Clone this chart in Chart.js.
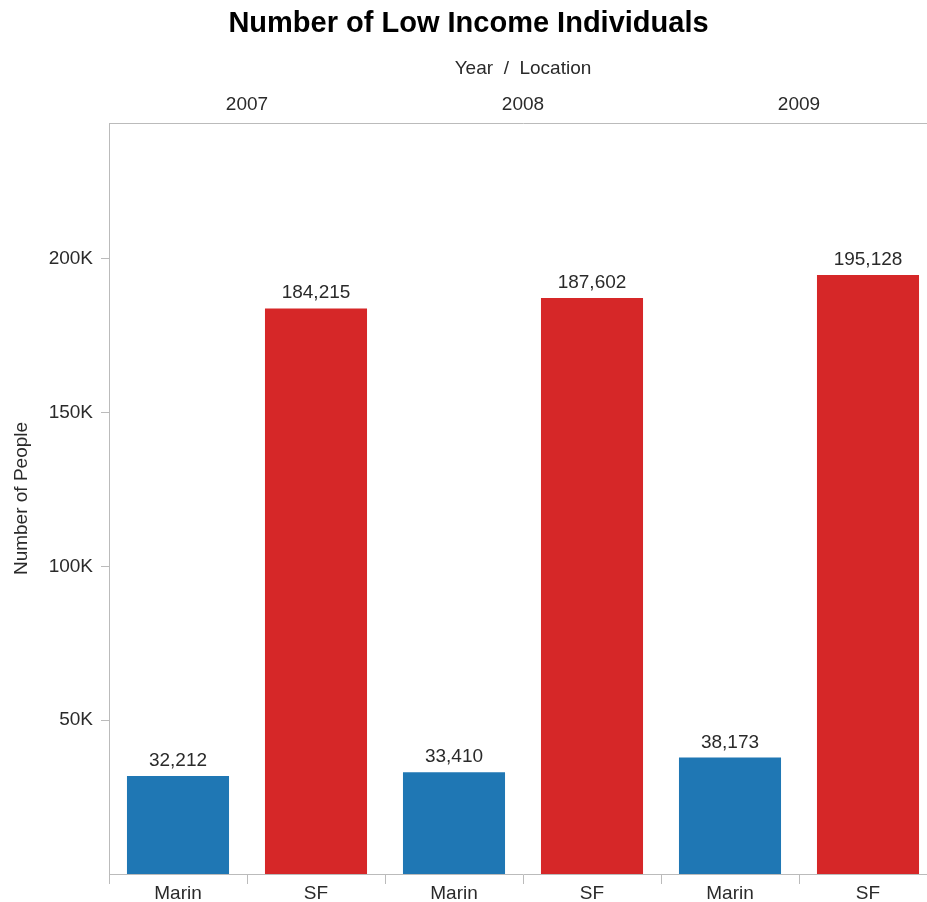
<!DOCTYPE html>
<html lang="en">

<head>
    <meta charset="UTF-8">
    <title>Number of Low Income Individuals</title>
    <script src="https://cdn.jsdelivr.net/npm/chart.js"></script>
</head>

<style>
    body {
        margin: 0;
        background: #fff;
        overflow: hidden;
    }

    /* a bit wider than the window: the last category runs off the right edge */
    #chart-box {
        position: relative;
        width: 937px;
        height: 902px;
    }
</style>

<body>

    <div id="chart-box">
        <canvas id="income-chart"></canvas>
    </div>

    <script>
        // data
        const years = ['2007', '2008', '2009'];
        const locations = ['Marin', 'SF', 'Marin', 'SF', 'Marin', 'SF'];
        const people = [32212, 184215, 33410, 187602, 38173, 195128];
        const yTicks = [50000, 100000, 150000, 200000];

        const locationColors = { Marin: '#1F77B4', SF: '#D62728' };
        const axisGrey = '#bbbbbb';
        const textColor = '#2a2a2a';
        const font = 'Liberation Sans, Arial, sans-serif';

        // value labels above each bar
        const barLabels = {
            id: 'barLabels',
            afterDatasetsDraw(chart) {
                const ctx = chart.ctx;
                const meta = chart.getDatasetMeta(0);
                ctx.save();
                ctx.font = '19px ' + font;
                ctx.fillStyle = textColor;
                ctx.textAlign = 'center';
                ctx.textBaseline = 'alphabetic';
                meta.data.forEach(function (bar, i) {
                    ctx.fillText(people[i].toLocaleString('en-US'), bar.x, bar.y - 9);
                });
                ctx.restore();
            }
        };

        var ctx = document.getElementById('income-chart').getContext('2d');
        var incomeChart = new Chart(ctx, {
            type: 'bar',
            data: {
                labels: locations,
                datasets: [{
                    label: 'Number of People',
                    data: people,
                    backgroundColor: locations.map(l => locationColors[l]),
                    borderColor: 'rgba(255, 255, 255, 0.3)',
                    borderWidth: 1,
                    barPercentage: 0.754,
                    categoryPercentage: 1
                }]
            },
            options: {
                responsive: true,
                maintainAspectRatio: false,
                animation: false,
                layout: {
                    padding: 0
                },
                plugins: {
                    legend: { display: false },
                    tooltip: { enabled: false },
                    title: {
                        display: true,
                        text: 'Number of Low Income Individuals',
                        color: '#000',
                        font: { family: font, size: 29, weight: 'bold' },
                        padding: { top: 7, bottom: 1 }
                    }
                },
                scales: {
                    x: {
                        position: 'bottom',
                        offset: true,
                        afterFit: function (scale) { scale.height = 28; },
                        border: { display: true, color: axisGrey },
                        grid: {
                            offset: true,
                            drawOnChartArea: false,
                            drawTicks: true,
                            tickLength: 10,
                            color: axisGrey
                        },
                        ticks: {
                            color: textColor,
                            padding: -2,
                            maxRotation: 0,
                            font: { family: font, size: 19 }
                        }
                    },
                    x2: {
                        type: 'category',
                        position: 'top',
                        labels: years,
                        offset: true,
                        afterFit: function (scale) { scale.height = 80.2; },
                        border: { display: true, color: axisGrey },
                        grid: { display: false, drawTicks: false },
                        ticks: {
                            color: textColor,
                            padding: 7,
                            maxRotation: 0,
                            font: { family: font, size: 19 }
                        },
                        title: {
                            display: true,
                            text: 'Year  /  Location',
                            color: textColor,
                            padding: { top: 15, bottom: 0 },
                            font: { family: font, size: 19 }
                        }
                    },
                    y: {
                        min: 0,
                        max: 244200,
                        afterFit: function (scale) { scale.width = 109; },
                        afterBuildTicks: function (scale) {
                            scale.ticks = yTicks.map(v => ({ value: v }));
                        },
                        border: { display: true, color: axisGrey },
                        grid: {
                            drawOnChartArea: false,
                            drawTicks: true,
                            tickLength: 8,
                            color: axisGrey
                        },
                        ticks: {
                            color: textColor,
                            padding: 8,
                            font: { family: font, size: 19 },
                            callback: function (value) { return (value / 1000) + 'K'; }
                        },
                        title: {
                            display: true,
                            text: 'Number of People',
                            color: textColor,
                            padding: { top: 10, bottom: 0 },
                            font: { family: font, size: 19 }
                        }
                    }
                }
            },
            plugins: [barLabels]
        });
    </script>

</body>

</html>
